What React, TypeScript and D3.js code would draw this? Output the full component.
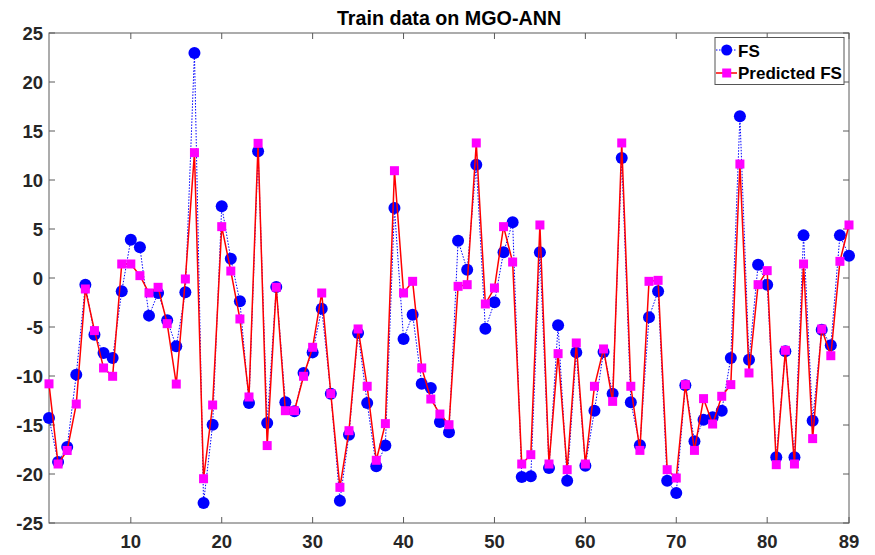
import React from "react";
import * as d3 from "d3";

const actualFS: number[] = [
  -14.29, -18.78, -17.24, -9.86, -0.68, -5.78, -7.65, -8.16, -1.36, 3.91,
  3.13, -3.84, -1.53, -4.32, -6.97, -1.46, 22.96, -22.96, -14.97, 7.31,
  1.97, -2.38, -12.76, 12.93, -14.8, -0.92, -12.69, -13.6, -9.69, -7.59,
  -3.13, -11.8, -22.72, -15.99, -5.61, -12.76, -19.22, -17.1, 7.14, -6.22,
  -3.74, -10.78, -11.22, -14.69, -15.75, 3.81, 0.85, 11.56, -5.17, -2.48,
  2.62, 5.68, -20.3, -20.24, 2.62, -19.39, -4.83, -20.68, -7.59, -19.15,
  -13.54, -7.55, -11.8, 12.24, -12.69, -17.07, -4.01, -1.36, -20.68, -21.94,
  -10.95, -16.67, -14.46, -14.22, -13.54, -8.16, 16.5, -8.33, 1.36, -0.68,
  -18.3, -7.48, -18.3, 4.35, -14.56, -5.27, -6.87, 4.35, 2.28,
];

const predictedFS: number[] = [
  -10.8, -18.98, -17.6, -12.86, -1.12, -5.37, -9.18, -10.03, 1.43, 1.43,
  0.24, -1.53, -0.95, -4.66, -10.82, -0.1, 12.79, -20.48, -12.96, 5.24,
  0.71, -4.18, -12.14, 13.74, -17.1, -0.95, -13.54, -13.54, -10.03, -7.07,
  -1.53, -11.8, -21.36, -15.58, -5.2, -11.05, -18.6, -14.86, 10.95, -1.53,
  -0.34, -9.18, -12.35, -13.88, -14.97, -0.85, -0.68, 13.78, -2.65, -1.02,
  5.24, 1.63, -18.98, -18.03, 5.41, -18.98, -7.72, -19.56, -6.63, -18.98,
  -11.05, -7.24, -12.59, 13.78, -11.05, -17.59, -0.34, -0.24, -19.56, -20.41,
  -10.88, -17.59, -12.31, -14.9, -12.07, -10.88, 11.63, -9.69, -0.68, 0.75,
  -19.05, -7.38, -18.98, 1.43, -16.39, -5.2, -7.93, 1.7, 5.41,
];

const xTicks: number[] = [10, 20, 30, 40, 50, 60, 70, 80, 89];
const yTicks: number[] = [-25, -20, -15, -10, -5, 0, 5, 10, 15, 20, 25];
const titleText = "Train data on MGO-ANN";
const seriesNames: string[] = ["FS", "Predicted FS"];

export default function App() {
  const W = 875, H = 555;
  const L = 49, R = 849, T = 33, B = 523;
  const x = d3.scaleLinear().domain([1, 89]).range([L, R]);
  const y = d3.scaleLinear().domain([-25, 25]).range([B, T]);
  const idx = actualFS.map((_, i) => i + 1);
  const lineA = d3.line<number>().x((_, i) => x(i + 1)).y((d) => y(d));
  const axisColor = "#5a5a5a";
  const font = "'Liberation Sans', Arial, Helvetica, sans-serif";
  const tl = 6;
  const tickFont = 18.5;

  return (
    <svg width={W} height={H} style={{ position: "absolute", left: 0, top: 0, background: "#fff" }}>
      <rect x={0} y={0} width={W} height={H} fill="#fff" />
      <rect x={L} y={T} width={R - L} height={B - T} fill="none" stroke={axisColor} strokeWidth={1} />
      {yTicks.map((t) => (
        <g key={"y" + t}>
          <line x1={L} x2={L + tl} y1={y(t)} y2={y(t)} stroke={axisColor} />
          <line x1={R} x2={R - tl} y1={y(t)} y2={y(t)} stroke={axisColor} />
          <text x={L - 6} y={y(t) + 1} dy="0.35em" textAnchor="end" fontFamily={font} fontWeight="bold" fontSize={tickFont} fill="#262626">
            {t}
          </text>
        </g>
      ))}
      {xTicks.map((t) => (
        <g key={"x" + t}>
          <line x1={x(t)} x2={x(t)} y1={B} y2={B - tl} stroke={axisColor} />
          <line x1={x(t)} x2={x(t)} y1={T} y2={T + tl} stroke={axisColor} />
          <text x={x(t)} y={B + 19} dy="0.35em" textAnchor="middle" fontFamily={font} fontWeight="bold" fontSize={tickFont} fill="#262626">
            {t}
          </text>
        </g>
      ))}
      <text x={449} y={25} textAnchor="middle" fontFamily={font} fontWeight="bold" fontSize={19.7} fill="#000">
        {titleText}
      </text>
      <path d={lineA(actualFS) || ""} fill="none" stroke="#0000ff" strokeWidth={1} strokeDasharray="1.5,1.5" />
      {actualFS.map((v, i) => (
        <circle key={"a" + i} cx={x(idx[i])} cy={y(v)} r={6} fill="#0000ff" />
      ))}
      <path d={lineA(predictedFS) || ""} fill="none" stroke="#ff0000" strokeWidth={1.5} />
      {predictedFS.map((v, i) => (
        <rect key={"p" + i} x={x(idx[i]) - 4.5} y={y(v) - 4.5} width={9} height={9} fill="#ff00ff" />
      ))}
      <g>
        <rect x={715} y={37.5} width={129} height={47} fill="#fff" stroke="#555" strokeWidth={1} />
        <line x1={716} x2={737} y1={50} y2={50} stroke="#0000ff" strokeWidth={1} strokeDasharray="1.5,1.5" />
        <circle cx={726.7} cy={50} r={5.5} fill="#0000ff" />
        <text x={738} y={51} dy="0.35em" fontFamily={font} fontWeight="bold" fontSize={17} fill="#000">
          {seriesNames[0]}
        </text>
        <line x1={716} x2={737} y1={73} y2={73} stroke="#ff0000" strokeWidth={1.5} />
        <rect x={722.2} y={68.5} width={9} height={9} fill="#ff00ff" />
        <text x={738} y={73.5} dy="0.35em" fontFamily={font} fontWeight="bold" fontSize={17} fill="#000">
          {seriesNames[1]}
        </text>
      </g>
    </svg>
  );
}
